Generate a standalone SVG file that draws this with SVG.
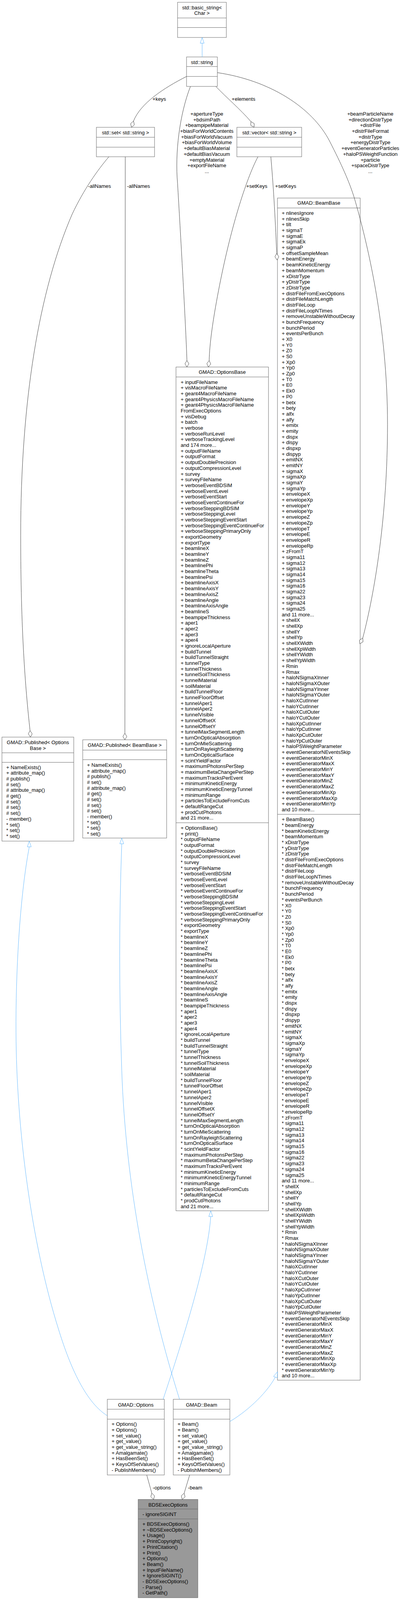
<svg xmlns="http://www.w3.org/2000/svg" width="1025" height="4185" viewBox="0 0 1025 4185">
<style>
.t{font-family:"Liberation Sans",Arial,Helvetica,sans-serif;font-size:13px;fill:#000}
.c{text-anchor:middle}
.box{fill:#fff;stroke:#666;stroke-width:1}
.main{fill:#999;stroke:#666;stroke-width:1}
.sep{stroke:#666;stroke-width:1}
.e{fill:none;stroke:#404040;stroke-width:1}
.dia{fill:#fff;stroke:#404040;stroke-width:1}
.i{fill:none;stroke:#63b8ff;stroke-width:1}
.tri{fill:#fff;stroke:#63b8ff;stroke-width:1}
</style>
<rect width="1025" height="4185" fill="#fff"/>
<g id="diagram" transform="scale(1,0.978734)">

<g id="basic_string">
<rect class="box" x="455" y="6" width="125" height="92"/>
<line class="sep" x1="455" y1="47" x2="580" y2="47"/>
<line class="sep" x1="455" y1="72" x2="580" y2="72"/>
<text class="t c" x="517.5" y="24.5">std::basic_string&lt;</text>
<text class="t c" x="517.5" y="38.5">Char &gt;</text>
</g>

<g id="std_string">
<rect class="box" x="478" y="149" width="79" height="77"/>
<line class="sep" x1="478" y1="174" x2="557" y2="174"/>
<line class="sep" x1="478" y1="200" x2="557" y2="200"/>
<text class="t c" x="517.5" y="167.5">std::string</text>
</g>

<g id="std_set">
<rect class="box" x="247" y="333" width="149" height="77"/>
<line class="sep" x1="247" y1="359" x2="396" y2="359"/>
<line class="sep" x1="247" y1="385" x2="396" y2="385"/>
<text class="t c" x="321.5" y="351.5">std::set&lt; std::string &gt;</text>
</g>

<g id="std_vector">
<rect class="box" x="607" y="333" width="166" height="77"/>
<line class="sep" x1="607" y1="359" x2="773" y2="359"/>
<line class="sep" x1="607" y1="385" x2="773" y2="385"/>
<text class="t c" x="690" y="351.5">std::vector&lt; std::string &gt;</text>
</g>

<g id="OptionsBase">
<rect class="box" x="451" y="960" width="237" height="2207"/>
<line class="sep" x1="451" y1="986" x2="688" y2="986"/>
<line class="sep" x1="451" y1="2152" x2="688" y2="2152"/>
<text class="t c" x="569.5" y="977.5">GMAD::OptionsBase</text>
<text class="t" x="463" y="1004"><tspan x="463" dy="0">+ inputFileName</tspan><tspan x="463" dy="15">+ visMacroFileName</tspan><tspan x="463" dy="15">+ geant4MacroFileName</tspan><tspan x="463" dy="15">+ geant4PhysicsMacroFileName</tspan><tspan x="463" dy="15">+ geant4PhysicsMacroFileName</tspan><tspan x="463" dy="15">FromExecOptions</tspan><tspan x="463" dy="15">+ visDebug</tspan><tspan x="463" dy="15">+ batch</tspan><tspan x="463" dy="15">+ verbose</tspan><tspan x="463" dy="15">+ verboseRunLevel</tspan><tspan x="463" dy="15">+ verboseTrackingLevel</tspan><tspan x="463" dy="15">and 174 more...</tspan><tspan x="463" dy="15">+ outputFileName</tspan><tspan x="463" dy="15">+ outputFormat</tspan><tspan x="463" dy="15">+ outputDoublePrecision</tspan><tspan x="463" dy="15">+ outputCompressionLevel</tspan><tspan x="463" dy="15">+ survey</tspan><tspan x="463" dy="15">+ surveyFileName</tspan><tspan x="463" dy="15">+ verboseEventBDSIM</tspan><tspan x="463" dy="15">+ verboseEventLevel</tspan><tspan x="463" dy="15">+ verboseEventStart</tspan><tspan x="463" dy="15">+ verboseEventContinueFor</tspan><tspan x="463" dy="15">+ verboseSteppingBDSIM</tspan><tspan x="463" dy="15">+ verboseSteppingLevel</tspan><tspan x="463" dy="15">+ verboseSteppingEventStart</tspan><tspan x="463" dy="15">+ verboseSteppingEventContinueFor</tspan><tspan x="463" dy="15">+ verboseSteppingPrimaryOnly</tspan><tspan x="463" dy="15">+ exportGeometry</tspan><tspan x="463" dy="15">+ exportType</tspan><tspan x="463" dy="15">+ beamlineX</tspan><tspan x="463" dy="15">+ beamlineY</tspan><tspan x="463" dy="15">+ beamlineZ</tspan><tspan x="463" dy="15">+ beamlinePhi</tspan><tspan x="463" dy="15">+ beamlineTheta</tspan><tspan x="463" dy="15">+ beamlinePsi</tspan><tspan x="463" dy="15">+ beamlineAxisX</tspan><tspan x="463" dy="15">+ beamlineAxisY</tspan><tspan x="463" dy="15">+ beamlineAxisZ</tspan><tspan x="463" dy="15">+ beamlineAngle</tspan><tspan x="463" dy="15">+ beamlineAxisAngle</tspan><tspan x="463" dy="15">+ beamlineS</tspan><tspan x="463" dy="15">+ beampipeThickness</tspan><tspan x="463" dy="15">+ aper1</tspan><tspan x="463" dy="15">+ aper2</tspan><tspan x="463" dy="15">+ aper3</tspan><tspan x="463" dy="15">+ aper4</tspan><tspan x="463" dy="15">+ ignoreLocalAperture</tspan><tspan x="463" dy="15">+ buildTunnel</tspan><tspan x="463" dy="15">+ buildTunnelStraight</tspan><tspan x="463" dy="15">+ tunnelType</tspan><tspan x="463" dy="15">+ tunnelThickness</tspan><tspan x="463" dy="15">+ tunnelSoilThickness</tspan><tspan x="463" dy="15">+ tunnelMaterial</tspan><tspan x="463" dy="15">+ soilMaterial</tspan><tspan x="463" dy="15">+ buildTunnelFloor</tspan><tspan x="463" dy="15">+ tunnelFloorOffset</tspan><tspan x="463" dy="15">+ tunnelAper1</tspan><tspan x="463" dy="15">+ tunnelAper2</tspan><tspan x="463" dy="15">+ tunnelVisible</tspan><tspan x="463" dy="15">+ tunnelOffsetX</tspan><tspan x="463" dy="15">+ tunnelOffsetY</tspan><tspan x="463" dy="15">+ tunnelMaxSegmentLength</tspan><tspan x="463" dy="15">+ turnOnOpticalAbsorption</tspan><tspan x="463" dy="15">+ turnOnMieScattering</tspan><tspan x="463" dy="15">+ turnOnRayleighScattering</tspan><tspan x="463" dy="15">+ turnOnOpticalSurface</tspan><tspan x="463" dy="15">+ scintYieldFactor</tspan><tspan x="463" dy="15">+ maximumPhotonsPerStep</tspan><tspan x="463" dy="15">+ maximumBetaChangePerStep</tspan><tspan x="463" dy="15">+ maximumTracksPerEvent</tspan><tspan x="463" dy="15">+ minimumKineticEnergy</tspan><tspan x="463" dy="15">+ minimumKineticEnergyTunnel</tspan><tspan x="463" dy="15">+ minimumRange</tspan><tspan x="463" dy="15">+ particlesToExcludeFromCuts</tspan><tspan x="463" dy="15">+ defaultRangeCut</tspan><tspan x="463" dy="15">+ prodCutPhotons</tspan><tspan x="463" dy="15">and 21 more...</tspan></text>
<text class="t" x="463" y="2170"><tspan x="463" dy="0">+ OptionsBase()</tspan><tspan x="463" dy="15">+ print()</tspan><tspan x="463" dy="15">* outputFileName</tspan><tspan x="463" dy="15">* outputFormat</tspan><tspan x="463" dy="15">* outputDoublePrecision</tspan><tspan x="463" dy="15">* outputCompressionLevel</tspan><tspan x="463" dy="15">* survey</tspan><tspan x="463" dy="15">* surveyFileName</tspan><tspan x="463" dy="15">* verboseEventBDSIM</tspan><tspan x="463" dy="15">* verboseEventLevel</tspan><tspan x="463" dy="15">* verboseEventStart</tspan><tspan x="463" dy="15">* verboseEventContinueFor</tspan><tspan x="463" dy="15">* verboseSteppingBDSIM</tspan><tspan x="463" dy="15">* verboseSteppingLevel</tspan><tspan x="463" dy="15">* verboseSteppingEventStart</tspan><tspan x="463" dy="15">* verboseSteppingEventContinueFor</tspan><tspan x="463" dy="15">* verboseSteppingPrimaryOnly</tspan><tspan x="463" dy="15">* exportGeometry</tspan><tspan x="463" dy="15">* exportType</tspan><tspan x="463" dy="15">* beamlineX</tspan><tspan x="463" dy="15">* beamlineY</tspan><tspan x="463" dy="15">* beamlineZ</tspan><tspan x="463" dy="15">* beamlinePhi</tspan><tspan x="463" dy="15">* beamlineTheta</tspan><tspan x="463" dy="15">* beamlinePsi</tspan><tspan x="463" dy="15">* beamlineAxisX</tspan><tspan x="463" dy="15">* beamlineAxisY</tspan><tspan x="463" dy="15">* beamlineAxisZ</tspan><tspan x="463" dy="15">* beamlineAngle</tspan><tspan x="463" dy="15">* beamlineAxisAngle</tspan><tspan x="463" dy="15">* beamlineS</tspan><tspan x="463" dy="15">* beampipeThickness</tspan><tspan x="463" dy="15">* aper1</tspan><tspan x="463" dy="15">* aper2</tspan><tspan x="463" dy="15">* aper3</tspan><tspan x="463" dy="15">* aper4</tspan><tspan x="463" dy="15">* ignoreLocalAperture</tspan><tspan x="463" dy="15">* buildTunnel</tspan><tspan x="463" dy="15">* buildTunnelStraight</tspan><tspan x="463" dy="15">* tunnelType</tspan><tspan x="463" dy="15">* tunnelThickness</tspan><tspan x="463" dy="15">* tunnelSoilThickness</tspan><tspan x="463" dy="15">* tunnelMaterial</tspan><tspan x="463" dy="15">* soilMaterial</tspan><tspan x="463" dy="15">* buildTunnelFloor</tspan><tspan x="463" dy="15">* tunnelFloorOffset</tspan><tspan x="463" dy="15">* tunnelAper1</tspan><tspan x="463" dy="15">* tunnelAper2</tspan><tspan x="463" dy="15">* tunnelVisible</tspan><tspan x="463" dy="15">* tunnelOffsetX</tspan><tspan x="463" dy="15">* tunnelOffsetY</tspan><tspan x="463" dy="15">* tunnelMaxSegmentLength</tspan><tspan x="463" dy="15">* turnOnOpticalAbsorption</tspan><tspan x="463" dy="15">* turnOnMieScattering</tspan><tspan x="463" dy="15">* turnOnRayleighScattering</tspan><tspan x="463" dy="15">* turnOnOpticalSurface</tspan><tspan x="463" dy="15">* scintYieldFactor</tspan><tspan x="463" dy="15">* maximumPhotonsPerStep</tspan><tspan x="463" dy="15">* maximumBetaChangePerStep</tspan><tspan x="463" dy="15">* maximumTracksPerEvent</tspan><tspan x="463" dy="15">* minimumKineticEnergy</tspan><tspan x="463" dy="15">* minimumKineticEnergyTunnel</tspan><tspan x="463" dy="15">* minimumRange</tspan><tspan x="463" dy="15">* particlesToExcludeFromCuts</tspan><tspan x="463" dy="15">* defaultRangeCut</tspan><tspan x="463" dy="15">* prodCutPhotons</tspan><tspan x="463" dy="15">and 21 more...</tspan></text>
</g>

<g id="BeamBase">
<rect class="box" x="711" y="518" width="212" height="3092"/>
<line class="sep" x1="711" y1="544" x2="923" y2="544"/>
<line class="sep" x1="711" y1="2130" x2="923" y2="2130"/>
<text class="t c" x="817" y="535.5">GMAD::BeamBase</text>
<text class="t" x="722" y="562"><tspan x="722" dy="0">+ nlinesIgnore</tspan><tspan x="722" dy="15">+ nlinesSkip</tspan><tspan x="722" dy="15">+ tilt</tspan><tspan x="722" dy="15">+ sigmaT</tspan><tspan x="722" dy="15">+ sigmaE</tspan><tspan x="722" dy="15">+ sigmaEk</tspan><tspan x="722" dy="15">+ sigmaP</tspan><tspan x="722" dy="15">+ offsetSampleMean</tspan><tspan x="722" dy="15">+ beamEnergy</tspan><tspan x="722" dy="15">+ beamKineticEnergy</tspan><tspan x="722" dy="15">+ beamMomentum</tspan><tspan x="722" dy="15">+ xDistrType</tspan><tspan x="722" dy="15">+ yDistrType</tspan><tspan x="722" dy="15">+ zDistrType</tspan><tspan x="722" dy="15">+ distrFileFromExecOptions</tspan><tspan x="722" dy="15">+ distrFileMatchLength</tspan><tspan x="722" dy="15">+ distrFileLoop</tspan><tspan x="722" dy="15">+ distrFileLoopNTimes</tspan><tspan x="722" dy="15">+ removeUnstableWithoutDecay</tspan><tspan x="722" dy="15">+ bunchFrequency</tspan><tspan x="722" dy="15">+ bunchPeriod</tspan><tspan x="722" dy="15">+ eventsPerBunch</tspan><tspan x="722" dy="15">+ X0</tspan><tspan x="722" dy="15">+ Y0</tspan><tspan x="722" dy="15">+ Z0</tspan><tspan x="722" dy="15">+ S0</tspan><tspan x="722" dy="15">+ Xp0</tspan><tspan x="722" dy="15">+ Yp0</tspan><tspan x="722" dy="15">+ Zp0</tspan><tspan x="722" dy="15">+ T0</tspan><tspan x="722" dy="15">+ E0</tspan><tspan x="722" dy="15">+ Ek0</tspan><tspan x="722" dy="15">+ P0</tspan><tspan x="722" dy="15">+ betx</tspan><tspan x="722" dy="15">+ bety</tspan><tspan x="722" dy="15">+ alfx</tspan><tspan x="722" dy="15">+ alfy</tspan><tspan x="722" dy="15">+ emitx</tspan><tspan x="722" dy="15">+ emity</tspan><tspan x="722" dy="15">+ dispx</tspan><tspan x="722" dy="15">+ dispy</tspan><tspan x="722" dy="15">+ dispxp</tspan><tspan x="722" dy="15">+ dispyp</tspan><tspan x="722" dy="15">+ emitNX</tspan><tspan x="722" dy="15">+ emitNY</tspan><tspan x="722" dy="15">+ sigmaX</tspan><tspan x="722" dy="15">+ sigmaXp</tspan><tspan x="722" dy="15">+ sigmaY</tspan><tspan x="722" dy="15">+ sigmaYp</tspan><tspan x="722" dy="15">+ envelopeX</tspan><tspan x="722" dy="15">+ envelopeXp</tspan><tspan x="722" dy="15">+ envelopeY</tspan><tspan x="722" dy="15">+ envelopeYp</tspan><tspan x="722" dy="15">+ envelopeZ</tspan><tspan x="722" dy="15">+ envelopeZp</tspan><tspan x="722" dy="15">+ envelopeT</tspan><tspan x="722" dy="15">+ envelopeE</tspan><tspan x="722" dy="15">+ envelopeR</tspan><tspan x="722" dy="15">+ envelopeRp</tspan><tspan x="722" dy="15">+ zFromT</tspan><tspan x="722" dy="15">+ sigma11</tspan><tspan x="722" dy="15">+ sigma12</tspan><tspan x="722" dy="15">+ sigma13</tspan><tspan x="722" dy="15">+ sigma14</tspan><tspan x="722" dy="15">+ sigma15</tspan><tspan x="722" dy="15">+ sigma16</tspan><tspan x="722" dy="15">+ sigma22</tspan><tspan x="722" dy="15">+ sigma23</tspan><tspan x="722" dy="15">+ sigma24</tspan><tspan x="722" dy="15">+ sigma25</tspan><tspan x="722" dy="15">and 11 more...</tspan><tspan x="722" dy="15">+ shellX</tspan><tspan x="722" dy="15">+ shellXp</tspan><tspan x="722" dy="15">+ shellY</tspan><tspan x="722" dy="15">+ shellYp</tspan><tspan x="722" dy="15">+ shellXWidth</tspan><tspan x="722" dy="15">+ shellXpWidth</tspan><tspan x="722" dy="15">+ shellYWidth</tspan><tspan x="722" dy="15">+ shellYpWidth</tspan><tspan x="722" dy="15">+ Rmin</tspan><tspan x="722" dy="15">+ Rmax</tspan><tspan x="722" dy="15">+ haloNSigmaXInner</tspan><tspan x="722" dy="15">+ haloNSigmaXOuter</tspan><tspan x="722" dy="15">+ haloNSigmaYInner</tspan><tspan x="722" dy="15">+ haloNSigmaYOuter</tspan><tspan x="722" dy="15">+ haloXCutInner</tspan><tspan x="722" dy="15">+ haloYCutInner</tspan><tspan x="722" dy="15">+ haloXCutOuter</tspan><tspan x="722" dy="15">+ haloYCutOuter</tspan><tspan x="722" dy="15">+ haloXpCutInner</tspan><tspan x="722" dy="15">+ haloYpCutInner</tspan><tspan x="722" dy="15">+ haloXpCutOuter</tspan><tspan x="722" dy="15">+ haloYpCutOuter</tspan><tspan x="722" dy="15">+ haloPSWeightParameter</tspan><tspan x="722" dy="15">+ eventGeneratorNEventsSkip</tspan><tspan x="722" dy="15">+ eventGeneratorMinX</tspan><tspan x="722" dy="15">+ eventGeneratorMaxX</tspan><tspan x="722" dy="15">+ eventGeneratorMinY</tspan><tspan x="722" dy="15">+ eventGeneratorMaxY</tspan><tspan x="722" dy="15">+ eventGeneratorMinZ</tspan><tspan x="722" dy="15">+ eventGeneratorMaxZ</tspan><tspan x="722" dy="15">+ eventGeneratorMinXp</tspan><tspan x="722" dy="15">+ eventGeneratorMaxXp</tspan><tspan x="722" dy="15">+ eventGeneratorMinYp</tspan><tspan x="722" dy="15">and 10 more...</tspan></text>
<text class="t" x="722" y="2148"><tspan x="722" dy="0">+ BeamBase()</tspan><tspan x="722" dy="15">* beamEnergy</tspan><tspan x="722" dy="15">* beamKineticEnergy</tspan><tspan x="722" dy="15">* beamMomentum</tspan><tspan x="722" dy="15">* xDistrType</tspan><tspan x="722" dy="15">* yDistrType</tspan><tspan x="722" dy="15">* zDistrType</tspan><tspan x="722" dy="15">* distrFileFromExecOptions</tspan><tspan x="722" dy="15">* distrFileMatchLength</tspan><tspan x="722" dy="15">* distrFileLoop</tspan><tspan x="722" dy="15">* distrFileLoopNTimes</tspan><tspan x="722" dy="15">* removeUnstableWithoutDecay</tspan><tspan x="722" dy="15">* bunchFrequency</tspan><tspan x="722" dy="15">* bunchPeriod</tspan><tspan x="722" dy="15">* eventsPerBunch</tspan><tspan x="722" dy="15">* X0</tspan><tspan x="722" dy="15">* Y0</tspan><tspan x="722" dy="15">* Z0</tspan><tspan x="722" dy="15">* S0</tspan><tspan x="722" dy="15">* Xp0</tspan><tspan x="722" dy="15">* Yp0</tspan><tspan x="722" dy="15">* Zp0</tspan><tspan x="722" dy="15">* T0</tspan><tspan x="722" dy="15">* E0</tspan><tspan x="722" dy="15">* Ek0</tspan><tspan x="722" dy="15">* P0</tspan><tspan x="722" dy="15">* betx</tspan><tspan x="722" dy="15">* bety</tspan><tspan x="722" dy="15">* alfx</tspan><tspan x="722" dy="15">* alfy</tspan><tspan x="722" dy="15">* emitx</tspan><tspan x="722" dy="15">* emity</tspan><tspan x="722" dy="15">* dispx</tspan><tspan x="722" dy="15">* dispy</tspan><tspan x="722" dy="15">* dispxp</tspan><tspan x="722" dy="15">* dispyp</tspan><tspan x="722" dy="15">* emitNX</tspan><tspan x="722" dy="15">* emitNY</tspan><tspan x="722" dy="15">* sigmaX</tspan><tspan x="722" dy="15">* sigmaXp</tspan><tspan x="722" dy="15">* sigmaY</tspan><tspan x="722" dy="15">* sigmaYp</tspan><tspan x="722" dy="15">* envelopeX</tspan><tspan x="722" dy="15">* envelopeXp</tspan><tspan x="722" dy="15">* envelopeY</tspan><tspan x="722" dy="15">* envelopeYp</tspan><tspan x="722" dy="15">* envelopeZ</tspan><tspan x="722" dy="15">* envelopeZp</tspan><tspan x="722" dy="15">* envelopeT</tspan><tspan x="722" dy="15">* envelopeE</tspan><tspan x="722" dy="15">* envelopeR</tspan><tspan x="722" dy="15">* envelopeRp</tspan><tspan x="722" dy="15">* zFromT</tspan><tspan x="722" dy="15">* sigma11</tspan><tspan x="722" dy="15">* sigma12</tspan><tspan x="722" dy="15">* sigma13</tspan><tspan x="722" dy="15">* sigma14</tspan><tspan x="722" dy="15">* sigma15</tspan><tspan x="722" dy="15">* sigma16</tspan><tspan x="722" dy="15">* sigma22</tspan><tspan x="722" dy="15">* sigma23</tspan><tspan x="722" dy="15">* sigma24</tspan><tspan x="722" dy="15">* sigma25</tspan><tspan x="722" dy="15">and 11 more...</tspan><tspan x="722" dy="15">* shellX</tspan><tspan x="722" dy="15">* shellXp</tspan><tspan x="722" dy="15">* shellY</tspan><tspan x="722" dy="15">* shellYp</tspan><tspan x="722" dy="15">* shellXWidth</tspan><tspan x="722" dy="15">* shellXpWidth</tspan><tspan x="722" dy="15">* shellYWidth</tspan><tspan x="722" dy="15">* shellYpWidth</tspan><tspan x="722" dy="15">* Rmin</tspan><tspan x="722" dy="15">* Rmax</tspan><tspan x="722" dy="15">* haloNSigmaXInner</tspan><tspan x="722" dy="15">* haloNSigmaXOuter</tspan><tspan x="722" dy="15">* haloNSigmaYInner</tspan><tspan x="722" dy="15">* haloNSigmaYOuter</tspan><tspan x="722" dy="15">* haloXCutInner</tspan><tspan x="722" dy="15">* haloYCutInner</tspan><tspan x="722" dy="15">* haloXCutOuter</tspan><tspan x="722" dy="15">* haloYCutOuter</tspan><tspan x="722" dy="15">* haloXpCutInner</tspan><tspan x="722" dy="15">* haloYpCutInner</tspan><tspan x="722" dy="15">* haloXpCutOuter</tspan><tspan x="722" dy="15">* haloYpCutOuter</tspan><tspan x="722" dy="15">* haloPSWeightParameter</tspan><tspan x="722" dy="15">* eventGeneratorNEventsSkip</tspan><tspan x="722" dy="15">* eventGeneratorMinX</tspan><tspan x="722" dy="15">* eventGeneratorMaxX</tspan><tspan x="722" dy="15">* eventGeneratorMinY</tspan><tspan x="722" dy="15">* eventGeneratorMaxY</tspan><tspan x="722" dy="15">* eventGeneratorMinZ</tspan><tspan x="722" dy="15">* eventGeneratorMaxZ</tspan><tspan x="722" dy="15">* eventGeneratorMinXp</tspan><tspan x="722" dy="15">* eventGeneratorMaxXp</tspan><tspan x="722" dy="15">* eventGeneratorMinYp</tspan><tspan x="722" dy="15">and 10 more...</tspan></text>
</g>

<g id="PublishedOptionsBase">
<rect class="box" x="5" y="1928" width="184" height="272"/>
<line class="sep" x1="5" y1="1969" x2="189" y2="1969"/>
<line class="sep" x1="5" y1="1994" x2="189" y2="1994"/>
<text class="t c" x="97" y="1946.5">GMAD::Published&lt; Options</text>
<text class="t c" x="97" y="1961.5">Base &gt;</text>
<text class="t" x="16" y="2011.5"><tspan x="16" dy="0">+ NameExists()</tspan><tspan x="16" dy="15">+ attribute_map()</tspan><tspan x="16" dy="15"># publish()</tspan><tspan x="16" dy="15"># set()</tspan><tspan x="16" dy="15"># attribute_map()</tspan><tspan x="16" dy="15"># get()</tspan><tspan x="16" dy="15"># set()</tspan><tspan x="16" dy="15"># set()</tspan><tspan x="16" dy="15"># set()</tspan><tspan x="16" dy="15">- member()</tspan><tspan x="16" dy="15">* set()</tspan><tspan x="16" dy="15">* set()</tspan><tspan x="16" dy="15">* set()</tspan></text>
</g>

<g id="PublishedBeamBase">
<rect class="box" x="212" y="1935" width="215" height="257"/>
<line class="sep" x1="212" y1="1962" x2="427" y2="1962"/>
<line class="sep" x1="212" y1="1987" x2="427" y2="1987"/>
<text class="t c" x="319.5" y="1953.5">GMAD::Published&lt; BeamBase &gt;</text>
<text class="t" x="223" y="2005.5"><tspan x="223" dy="0">+ NameExists()</tspan><tspan x="223" dy="15">+ attribute_map()</tspan><tspan x="223" dy="15"># publish()</tspan><tspan x="223" dy="15"># set()</tspan><tspan x="223" dy="15"># attribute_map()</tspan><tspan x="223" dy="15"># get()</tspan><tspan x="223" dy="15"># set()</tspan><tspan x="223" dy="15"># set()</tspan><tspan x="223" dy="15"># set()</tspan><tspan x="223" dy="15">- member()</tspan><tspan x="223" dy="15">* set()</tspan><tspan x="223" dy="15">* set()</tspan><tspan x="223" dy="15">* set()</tspan></text>
</g>

<g id="Options">
<rect class="box" x="275" y="3660" width="146" height="198"/>
<line class="sep" x1="275" y1="3686" x2="421" y2="3686"/>
<line class="sep" x1="275" y1="3712" x2="421" y2="3712"/>
<text class="t c" x="348" y="3679.5">GMAD::Options</text>
<text class="t" x="286" y="3729.5"><tspan x="286" dy="0">+ Options()</tspan><tspan x="286" dy="15">+ Options()</tspan><tspan x="286" dy="15">+ set_value()</tspan><tspan x="286" dy="15">+ get_value()</tspan><tspan x="286" dy="15">+ get_value_string()</tspan><tspan x="286" dy="15">+ Amalgamate()</tspan><tspan x="286" dy="15">+ HasBeenSet()</tspan><tspan x="286" dy="15">+ KeysOfSetValues()</tspan><tspan x="286" dy="15">- PublishMembers()</tspan></text>
</g>

<g id="Beam">
<rect class="box" x="444" y="3660" width="145" height="198"/>
<line class="sep" x1="444" y1="3686" x2="589" y2="3686"/>
<line class="sep" x1="444" y1="3712" x2="589" y2="3712"/>
<text class="t c" x="516.5" y="3679.5">GMAD::Beam</text>
<text class="t" x="455" y="3729.5"><tspan x="455" dy="0">+ Beam()</tspan><tspan x="455" dy="15">+ Beam()</tspan><tspan x="455" dy="15">+ set_value()</tspan><tspan x="455" dy="15">+ get_value()</tspan><tspan x="455" dy="15">+ get_value_string()</tspan><tspan x="455" dy="15">+ Amalgamate()</tspan><tspan x="455" dy="15">+ HasBeenSet()</tspan><tspan x="455" dy="15">+ KeysOfSetValues()</tspan><tspan x="455" dy="15">- PublishMembers()</tspan></text>
</g>

<g id="BDSExecOptions">
<rect class="main" x="354" y="3922" width="153" height="257"/>
<line class="sep" x1="354" y1="3947" x2="507" y2="3947"/>
<line class="sep" x1="354" y1="3973" x2="507" y2="3973"/>
<text class="t c" x="430.5" y="3940.5">BDSExecOptions</text>
<text class="t" x="365" y="3965">- ignoreSIGINT</text>
<text class="t" x="365" y="3991"><tspan x="365" dy="0">+ BDSExecOptions()</tspan><tspan x="365" dy="15">+ ~BDSExecOptions()</tspan><tspan x="365" dy="15">+ Usage()</tspan><tspan x="365" dy="15">+ PrintCopyright()</tspan><tspan x="365" dy="15">+ PrintCitation()</tspan><tspan x="365" dy="15">+ Print()</tspan><tspan x="365" dy="15">+ Options()</tspan><tspan x="365" dy="15">+ Beam()</tspan><tspan x="365" dy="15">+ InputFileName()</tspan><tspan x="365" dy="15">+ IgnoreSIGINT()</tspan><tspan x="365" dy="15">- BDSExecOptions()</tspan><tspan x="365" dy="15">- Parse()</tspan><tspan x="365" dy="15">- GetPath()</tspan></text>
</g>

<g id="connectors">
<path class="i" d="M518,113 L518,149"/>
<polygon class="tri" points="518,98 523,113 513,113"/>
<path class="i" d="M75,2215 C50,2350 40,2550 41,2700 C42,2950 80,3250 150,3477 C175,3560 215,3665 275,3703"/>
<polygon class="tri" points="75,2200 80,2215 70,2215"/>
<path class="i" d="M312,2207 C305,2400 305,2600 312,2800 C322,3100 380,3400 460,3660"/>
<polygon class="tri" points="312,2192 317,2207 307,2207"/>
<path class="i" d="M540,3182 C532,3300 470,3500 418,3660"/>
<polygon class="tri" points="540,3167 545,3182 535,3182"/>
<path class="i" d="M705.5,3602 C680,3650 625,3697 589,3718"/>
<polygon class="tri" points="711,3588 710.2,3603.9 700.9,3600.2"/>
<path class="e" d="M478,200 C420,230 360,270 342,317"/>
<polygon class="dia" points="337,333 344.3,326.4 342.1,316.8 334.7,323.4"/>
<path class="e" d="M553,226 C580,255 615,285 643,318"/>
<polygon class="dia" points="651,333 651.4,323.2 643,318 642.6,327.8"/>
<path class="e" d="M488,226 C460,300 448,400 455,480 C462,600 476,850 479,943"/>
<polygon class="dia" points="479,960 484,951.5 479,943 474,951.5"/>
<path class="e" d="M661,410 C630,470 590,600 560,760 C545,840 537,900 536,943"/>
<polygon class="dia" points="534,960 540,952.2 536,943.1 530,951"/>
<path class="e" d="M694,410 C700,480 705,560 709,663"/>
<polygon class="dia" points="710,680 714.5,671.5 709,663 704.5,671.5"/>
<path class="e" d="M557,190 C690,210 800,280 845,370 C875,430 895,475 908,518 C940,630 993,850 993,1110 C993,1350 960,1550 929.6,1668.9"/>
<polygon class="dia" points="922,1684 930.2,1678.7 929.6,1668.9 921.3,1674.2"/>
<path class="e" d="M279,410 C250,445 215,495 185,560 C100,760 53,1050 53,1400 C53,1650 65,1800 77,1911"/>
<polygon class="dia" points="78,1928 82.5,1919.5 77,1911 72.5,1919.5"/>
<path class="e" d="M321,410 L320,1918"/>
<polygon class="dia" points="320,1935 325,1926.5 320,1918 315,1926.5"/>
<path class="e" d="M376,3858 L389,3905.6"/>
<polygon class="dia" points="393.5,3922 396,3912.5 389,3905.6 386.4,3915.1"/>
<path class="e" d="M486,3858 L471.9,3905.7"/>
<polygon class="dia" points="467,3922 474.2,3915.3 471.9,3905.7 464.6,3912.4"/>
<text class="t c" x="408" y="263.5">+keys</text>
<text class="t c" x="624" y="263.5">+elements</text>
<text class="t c" x="530" y="302.5"><tspan x="530" dy="0">+apertureType</tspan><tspan x="530" dy="15">+bdsimPath</tspan><tspan x="530" dy="15">+beampipeMaterial</tspan><tspan x="530" dy="15">+biasForWorldContents</tspan><tspan x="530" dy="15">+biasForWorldVacuum</tspan><tspan x="530" dy="15">+biasForWorldVolume</tspan><tspan x="530" dy="15">+defaultBiasMaterial</tspan><tspan x="530" dy="15">+defaultBiasVacuum</tspan><tspan x="530" dy="15">+emptyMaterial</tspan><tspan x="530" dy="15">+exportFileName</tspan><tspan x="530" dy="15">...</tspan></text>
<text class="t c" x="949" y="302.5"><tspan x="949" dy="0">+beamParticleName</tspan><tspan x="949" dy="15">+directionDistrType</tspan><tspan x="949" dy="15">+distrFile</tspan><tspan x="949" dy="15">+distrFileFormat</tspan><tspan x="949" dy="15">+distrType</tspan><tspan x="949" dy="15">+energyDistrType</tspan><tspan x="949" dy="15">+eventGeneratorParticles</tspan><tspan x="949" dy="15">+haloPSWeightFunction</tspan><tspan x="949" dy="15">+particle</tspan><tspan x="949" dy="15">+spaceDistrType</tspan><tspan x="949" dy="15">...</tspan></text>
<text class="t c" x="255" y="491.5">-allNames</text>
<text class="t c" x="355" y="491.5">-allNames</text>
<text class="t c" x="658" y="491.5">+setKeys</text>
<text class="t c" x="732" y="491.5">+setKeys</text>
<text class="t c" x="414.5" y="3895.5">-options</text>
<text class="t c" x="500" y="3895.5">-beam</text>
</g>
</g>
</svg>
